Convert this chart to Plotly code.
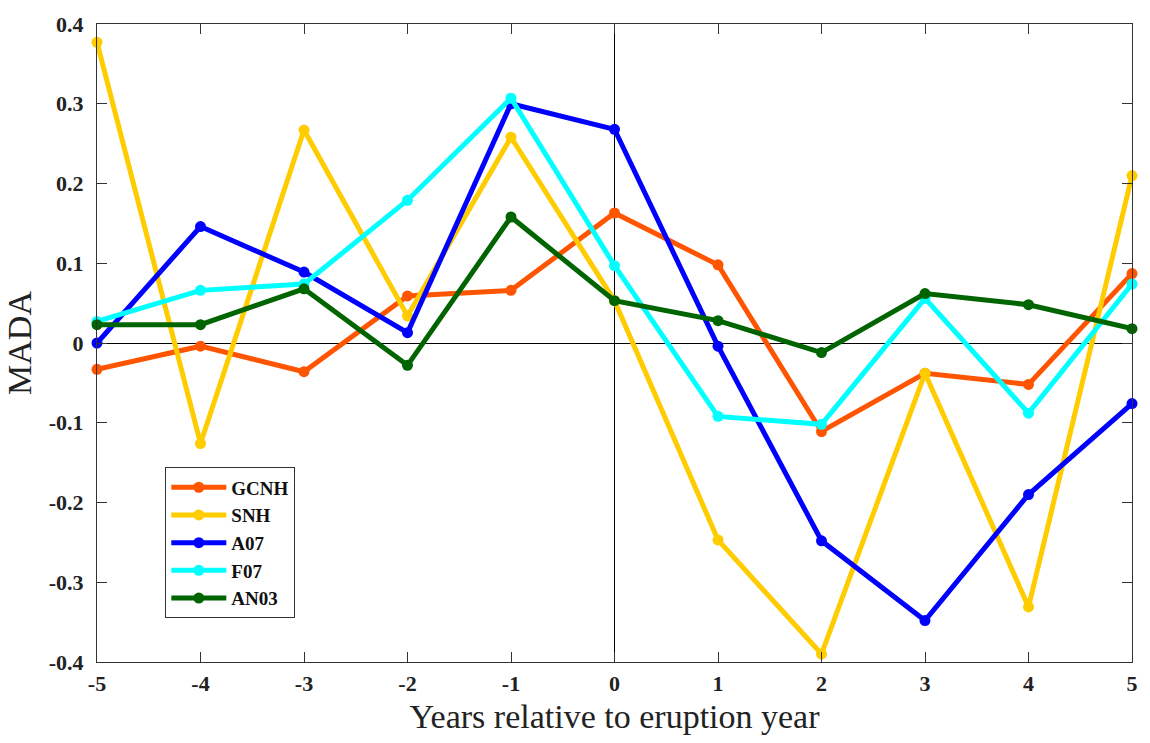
import plotly.graph_objects as go

years = [-5, -4, -3, -2, -1, 0, 1, 2, 3, 4, 5]
gcnh = [-0.033, -0.004, -0.036, 0.059, 0.066, 0.163, 0.098, -0.111, -0.038, -0.052, 0.087]
snh = [0.377, -0.126, 0.267, 0.034, 0.258, 0.053, -0.247, -0.390, -0.038, -0.331, 0.210]
a07 = [0.000, 0.146, 0.089, 0.013, 0.300, 0.268, -0.004, -0.248, -0.348, -0.190, -0.076]
f07 = [0.027, 0.066, 0.074, 0.179, 0.307, 0.097, -0.092, -0.102, 0.056, -0.088, 0.074]
an03 = [0.023, 0.023, 0.068, -0.028, 0.158, 0.053, 0.028, -0.012, 0.062, 0.048, 0.018]

series = [
    ("GCNH", gcnh, "#FF5500"),
    ("SNH", snh, "#FFCC00"),
    ("A07", a07, "#0000FF"),
    ("F07", f07, "#00FFFF"),
    ("AN03", an03, "#006400"),
]

fig = go.Figure()
for name, vals, col in series:
    fig.add_trace(go.Scatter(
        x=years, y=vals, name=name, mode="lines+markers",
        line=dict(color=col, width=5),
        marker=dict(color=col, size=11),
        cliponaxis=False,
    ))

axis_common = dict(
    showline=True, linecolor="#333333", linewidth=1, mirror="ticks",
    ticks="inside", ticklen=10, tickcolor="#333333", tickwidth=1,
    showgrid=False, zeroline=True, zerolinecolor="#000000", zerolinewidth=1,
    tickfont=dict(family="Liberation Serif", size=22, color="#222222", weight="bold"),
)

fig.update_xaxes(
    range=[-5, 5], tickmode="array", tickvals=years,
    ticktext=[str(v) for v in years],
    ticklabelstandoff=2,
    title=dict(text="Years relative to eruption year",
               font=dict(family="Liberation Serif", size=34, color="#222222"), standoff=8),
    **axis_common,
)
fig.update_yaxes(
    range=[-0.4, 0.4], tickmode="array",
    tickvals=[-0.4, -0.3, -0.2, -0.1, 0, 0.1, 0.2, 0.3, 0.4],
    ticktext=["-0.4", "-0.3", "-0.2", "-0.1", "0", "0.1", "0.2", "0.3", "0.4"],
    ticklabelstandoff=8,
    title=dict(text="MADA", font=dict(family="Liberation Serif", size=34, color="#222222"), standoff=6),
    **axis_common,
)

fig.update_layout(
    width=1150, height=743,
    margin=dict(l=97, r=13, t=23, b=81),
    paper_bgcolor="white", plot_bgcolor="white",
    showlegend=True,
    legend=dict(
        x=0.066, y=0.305, xanchor="left", yanchor="top",
        bgcolor="white", bordercolor="#333333", borderwidth=1,
        font=dict(family="Liberation Serif", size=19, color="#111111", weight="bold"),
        tracegroupgap=0, itemwidth=55,
    ),
)

fig.write_html("out.html")
